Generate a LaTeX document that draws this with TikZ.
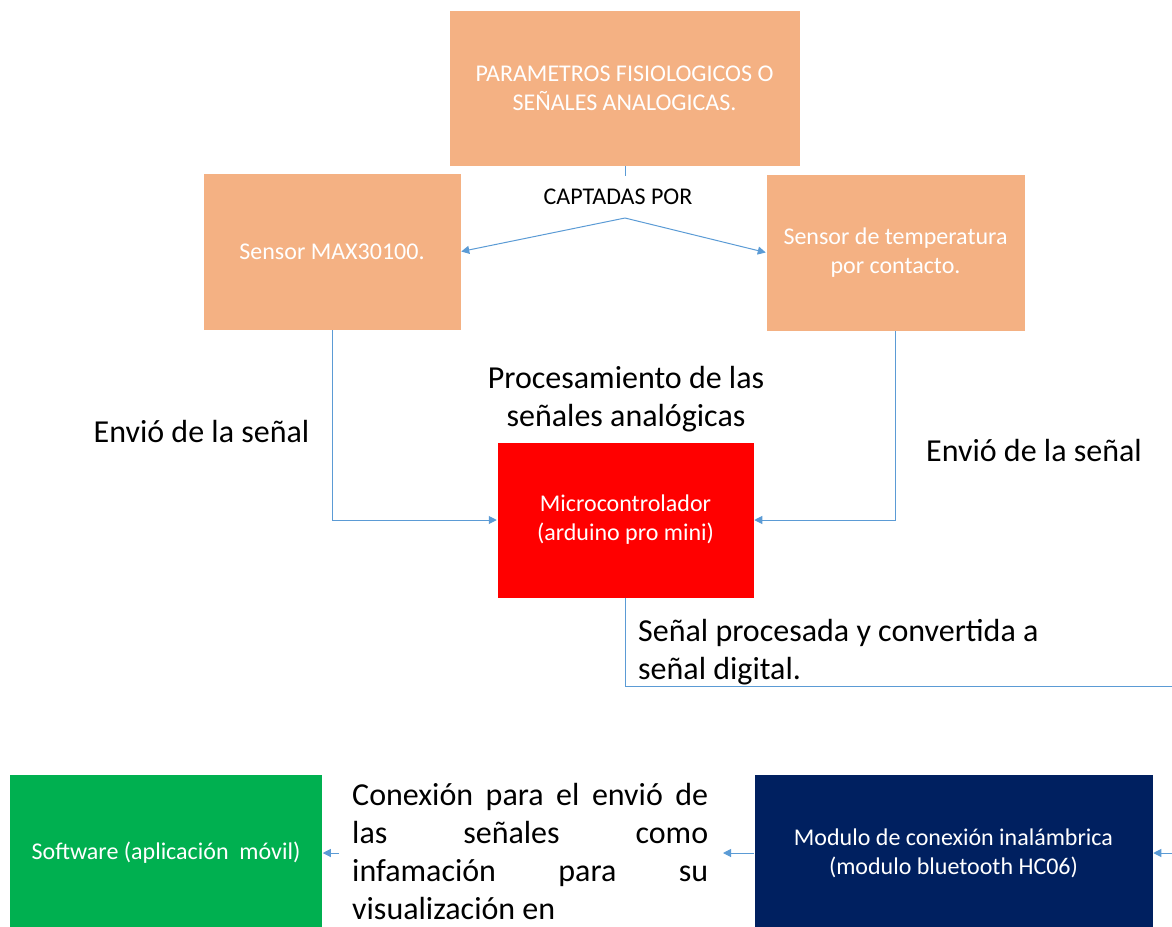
\documentclass[tikz,border=0pt]{standalone}
\usepackage{fontspec}
\setmainfont{Carlito}
\usepackage{tikz}
\usetikzlibrary{arrows.meta}
\definecolor{salmon}{HTML}{F4B183}
\definecolor{link-blue}{HTML}{5B9BD5}
\definecolor{micro-red}{HTML}{FF0000}
\definecolor{app-green}{HTML}{00B050}
\definecolor{bt-navy}{HTML}{002060}

\begin{document}
\begin{tikzpicture} [x=1pt, y=-1pt,
  block/.style={rectangle, draw=white, line width=0.5pt, text=white, align=center, inner sep=0pt, font=\fontsize{24}{29}\selectfont},
  link/.style={draw=link-blue, line width=1pt},
  linkarrow/.style={link, -{Triangle[length=8pt,width=8pt]}},
  note/.style={font=\fontsize{32}{38}\selectfont, align=center}]%Diagrama de bloques
\useasboundingbox (0,0) rectangle (1172,926);
  \node [block, fill=salmon, minimum width=351, minimum height=156] (params) at (624.5,88) {PARAMETROS FISIOLOGICOS O\\SEÑALES ANALOGICAS.};
  \node [block, fill=salmon, minimum width=258, minimum height=157] (max) at (332,251.5) {Sensor MAX30100.};
  \node [block, fill=salmon, minimum width=259, minimum height=157] (temp) at (895.5,252.5) {Sensor de temperatura\\por contacto.};
  \node [block, fill=micro-red, minimum width=257, minimum height=156] (micro) at (625.5,520) {Microcontrolador\\(arduino pro mini)};
  \node [block, fill=bt-navy, minimum width=399, minimum height=158] (bt) at (953.5,853) {Modulo de conexión inalámbrica\\(modulo bluetooth HC06)};
  \node [block, fill=app-green, minimum width=313, minimum height=158] (app) at (166,853) {Software (aplicación\ \ móvil)};
  % textos
  \node [font=\fontsize{24}{29}\selectfont] (captadas) at (618,197) {CAPTADAS POR};
  \node [note] (envioL) at (201.5,432) {Envió de la señal};
  \node [note] (envioR) at (1034,451) {Envió de la señal};
  \node [note] (proc) at (626,399.5) {Procesamiento de las\\señales analógicas};
  \node [note, anchor=west, align=left, inner sep=0pt] (digital) at (638,652) {Señal procesada y convertida a\\señal digital.};
  \node [note, anchor=west, align=left, inner sep=0pt] (conexion) at (352,851.5)
    {\hbox to 356pt{Conexión\hfill para\hfill el\hfill envió\hfill de}\\\hbox to 356pt{las\hfill señales\hfill como}\\\hbox to 356pt{infamación\hfill para\hfill su}\\visualización en};
  % conectores
  \coordinate (split) at (625,176);
  \coordinate (fork) at (625,218);
  \coordinate (outR) at (1172,686);
  \coordinate (inR) at (1172,853);
  \coordinate (btout) at (723,853);
  \coordinate (appin) at (339,853);
  \draw [link] (params.south -| split) -- (split);
  \draw [linkarrow] (fork) -- (max.east);
  \draw [linkarrow] (fork) -- (temp.west);
  \draw [linkarrow] (max.south) |- (micro.west);
  \draw [linkarrow] (temp.south) |- (micro.east);
  \draw [link] (micro.south) |- (outR);
  \draw [linkarrow] (inR) -- (bt.east);
  \draw [linkarrow] (bt.west) -- (btout);
  \draw [linkarrow] (appin) -- (app.east);
 \end{tikzpicture}
\end{document}
